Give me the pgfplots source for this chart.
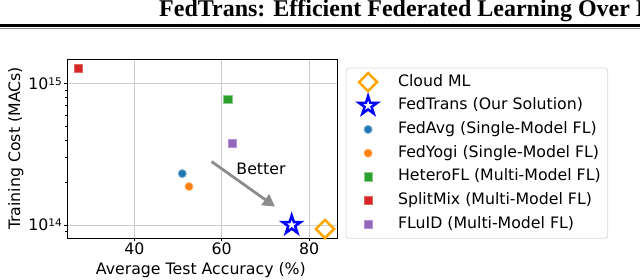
\documentclass[border=0pt]{standalone}
\usepackage{pgfplots}
\pgfplotsset{compat=1.18}
\usetikzlibrary{arrows.meta}
\usepackage{fontspec}
\setmainfont{DejaVu Sans}
\newfontfamily\hdr{Liberation Serif}
\definecolor{tabblue}{HTML}{1F77B4}
\definecolor{taborange}{HTML}{FF7F0E}
\definecolor{tabgreen}{HTML}{2CA02C}
\definecolor{tabred}{HTML}{D62728}
\definecolor{tabpurple}{HTML}{9467BD}
\definecolor{cloudorange}{HTML}{FFA500}
\pgfdeclareplotmark{fivestar}{%
  \pgfpathmoveto{\pgfqpointpolar{90}{\pgfplotmarksize}}%
  \pgfpathlineto{\pgfqpointpolar{126}{0.382\pgfplotmarksize}}%
  \pgfpathlineto{\pgfqpointpolar{162}{\pgfplotmarksize}}%
  \pgfpathlineto{\pgfqpointpolar{198}{0.382\pgfplotmarksize}}%
  \pgfpathlineto{\pgfqpointpolar{234}{\pgfplotmarksize}}%
  \pgfpathlineto{\pgfqpointpolar{270}{0.382\pgfplotmarksize}}%
  \pgfpathlineto{\pgfqpointpolar{306}{\pgfplotmarksize}}%
  \pgfpathlineto{\pgfqpointpolar{342}{0.382\pgfplotmarksize}}%
  \pgfpathlineto{\pgfqpointpolar{18}{\pgfplotmarksize}}%
  \pgfpathlineto{\pgfqpointpolar{54}{0.382\pgfplotmarksize}}%
  \pgfpathclose
  \pgfusepathqfillstroke
}
\begin{document}
\begin{tikzpicture}
\useasboundingbox (0pt,0pt) rectangle (640pt,279pt);
\node[anchor=base west, inner sep=0pt, font=\hdr\bfseries\fontsize{24}{28}\selectfont] at (159pt,262pt) {FedTrans: Efficient Federated Learning Over H};
\node[fill=black, draw=none, inner sep=0pt, minimum width=640pt, minimum height=2.4pt, anchor=center] at (320pt,253.5pt) {};
\node[fill=black!45, draw=none, inner sep=0pt, minimum width=640pt, minimum height=1.2pt, anchor=center] at (320pt,250.4pt) {};
\begin{axis}[
  at={(67pt,41pt)}, anchor=south west,
  scale only axis, width=270pt, height=179pt,
  xmin=24.6, xmax=86.4,
  ymode=log, ymin=8.09e13, ymax=1.496e15,
  xtick={40,60,80}, xticklabels={40,60,80},
  ytick={1e14,1e15},
  yticklabels={{10\raisebox{3.9pt}{\fontsize{10.5}{11}\selectfont 14}},{10\raisebox{3.9pt}{\fontsize{10.5}{11}\selectfont 15}}},
  minor ytick={9e13,2e14,3e14,4e14,5e14,6e14,7e14,8e14,9e14},
  grid=major,
  major grid style={line width=0.8pt, black!20},
  tick align=outside, tick pos=left,
  major tick length=3.5pt, minor tick length=2pt,
  every tick/.style={black, line width=0.8pt},
  axis line style={line width=0.9pt, black},
  tick label style={font=\fontsize{15.75}{18}\selectfont, inner sep=1.5pt},
  every axis x label/.style={at={(axis description cs:0.496,0)}, anchor=base, yshift=-37pt},
  every axis y label/.style={at={(axis description cs:-0.174,0.5)}, anchor=base, rotate=90},
  label style={font=\fontsize{15.75}{18}\selectfont},
  xlabel={Average Test Accuracy (\%)},
  ylabel={Training Cost (MACs)},
  legend image code/.code={%
    \path[draw=none,fill=none] (0pt,-6pt) (26pt,6pt);
    \draw[overlay,mark repeat=2,mark phase=2,#1] plot coordinates {(0pt,0pt)(15pt,0pt)(30pt,0pt)};},
  legend style={at={(1.0322,0.9514)}, anchor=north west,
    draw=black!15, line width=0.8pt, rounded corners=2.5pt,
    inner xsep=7pt, inner ysep=6pt,
    font=\fontsize{15.75}{18}\selectfont,
    nodes={inner sep=0pt, text height=12pt, text depth=4pt},
    row sep=7.7pt, column sep=19pt},
  legend cell align=left,
]
\addplot[only marks, mark=square, mark size=6.4pt, mark options={rotate=45, draw=cloudorange, line width=2.5pt, fill=none}] coordinates {(83.65,9.37e13)};
\addlegendentry{Cloud ML}
\addplot[only marks, mark=fivestar, mark size=9.6pt, mark options={draw=blue, fill=white, line width=2.5pt, line join=miter}] coordinates {(76.03,1.0e14)};
\addlegendentry{FedTrans (Our Solution)}
\addplot[only marks, mark=*, mark size=4.1pt, mark options={fill=tabblue, draw=tabblue!55!white, line width=0.8pt}] coordinates {(50.99,2.31e14)};
\addlegendentry{FedAvg (Single-Model FL)}
\addplot[only marks, mark=*, mark size=4.1pt, mark options={fill=taborange, draw=taborange!55!white, line width=0.8pt}] coordinates {(52.52,1.87e14)};
\addlegendentry{FedYogi (Single-Model FL)}
\addplot[only marks, mark=square*, mark size=4.1pt, mark options={fill=tabgreen, draw=tabgreen!55!white, line width=0.8pt}] coordinates {(61.45,7.76e14)};
\addlegendentry{HeteroFL (Multi-Model FL)}
\addplot[only marks, mark=square*, mark size=4.1pt, mark options={fill=tabred, draw=tabred!70!white, line width=0.8pt}] coordinates {(27.16,1.28e15)};
\addlegendentry{SplitMix (Multi-Model FL)}
\addplot[only marks, mark=square*, mark size=4.1pt, mark options={fill=tabpurple, draw=tabpurple!70!white, line width=0.8pt}] coordinates {(62.43,3.80e14)};
\addlegendentry{FLuID (Multi-Model FL)}
\draw[line width=2.8pt, black!45, -{Triangle[length=12pt, width=13pt]}] (axis cs:57.7,2.81e14) -- (axis cs:72.2,1.35e14);
\node[font=\fontsize{15.75}{18}\selectfont] at (axis cs:69.0,2.48e14) {Better};
\end{axis}
\end{tikzpicture}
\end{document}
